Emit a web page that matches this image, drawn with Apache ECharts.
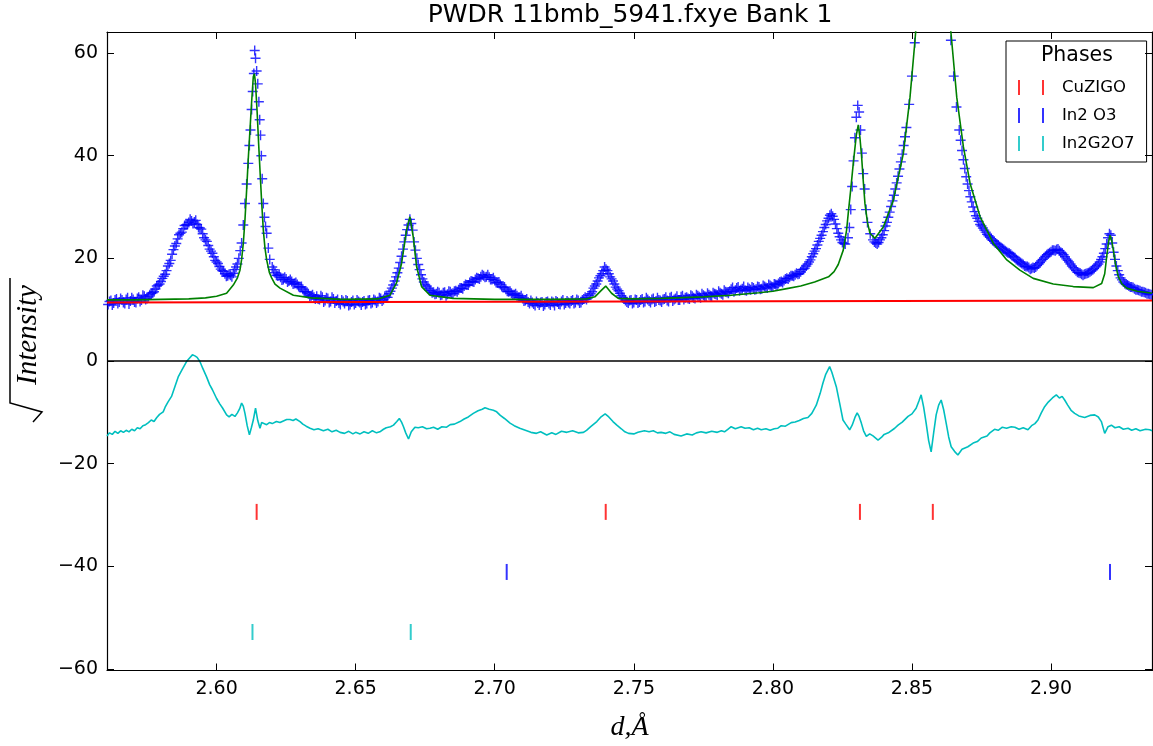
<!DOCTYPE html>
<html>
<head>
<meta charset="utf-8">
<script src="https://cdn.jsdelivr.net/npm/echarts@6.0.0/dist/echarts.min.js"></script>
<style>
html, body { margin: 0; padding: 0; background: #fff; }
#main { width: 1153px; height: 746px; }
</style>
</head>
<body>
<div id="main"></div>
<script>
// observed sqrt(I) (blue +), whole-step readings
var obsPts = [
 [2.561,11.0],[2.562,11.8],[2.563,11.3],[2.564,12.1],[2.565,11.5],[2.566,11.9],[2.567,11.2],[2.568,12.3],[2.569,11.7],[2.570,12.0],
 [2.571,11.4],[2.572,12.4],[2.573,11.9],[2.574,12.6],[2.575,12.2],[2.576,12.9],[2.577,13.3],[2.578,14.0],[2.579,14.8],[2.580,15.5],
 [2.581,16.5],[2.582,17.6],[2.583,19.0],[2.584,20.8],[2.585,22.4],[2.586,23.8],[2.587,24.9],[2.588,25.8],[2.589,26.5],[2.590,27.0],
 [2.591,27.3],[2.592,27.1],[2.593,26.6],[2.594,25.9],[2.595,24.8],[2.596,23.6],[2.597,22.5],[2.598,21.4],[2.599,20.3],[2.600,19.3],
 [2.601,18.4],[2.602,17.6],[2.603,17.0],[2.604,16.6],[2.605,16.7],[2.606,17.1],[2.607,18.3],[2.608,20.0],[2.609,23.0],[2.6096,26.5],
 [2.6102,30.7],[2.6108,34.5],[2.6114,38.5],[2.6118,42.0],[2.6122,45.0],[2.6126,49.0],[2.613,52.5],[2.6134,56.0],[2.6137,60.5],[2.614,59.0],
 [2.6144,56.5],[2.6148,54.0],[2.6152,50.5],[2.6155,47.0],[2.6158,44.0],[2.6161,40.0],[2.6164,35.5],[2.6168,30.7],[2.6172,28.0],[2.6176,26.2],
 [2.618,24.9],[2.6186,22.0],[2.6191,19.8],[2.620,18.3],[2.621,17.2],[2.622,16.6],[2.623,16.3],[2.624,15.9],[2.625,16.0],[2.626,15.6],
 [2.627,15.5],[2.628,15.1],[2.629,14.9],[2.630,14.3],[2.631,14.0],[2.632,13.5],[2.633,13.1],[2.634,12.7],[2.635,12.4],[2.636,12.6],
 [2.637,12.0],[2.638,12.4],[2.639,11.8],[2.640,12.2],[2.641,11.6],[2.642,12.1],[2.643,11.7],[2.644,11.3],[2.645,11.9],[2.646,11.2],
 [2.647,11.7],[2.648,11.0],[2.649,11.8],[2.650,11.3],[2.651,11.6],[2.652,10.9],[2.653,11.7],[2.654,11.2],[2.655,11.9],[2.656,11.4],
 [2.657,11.8],[2.658,11.6],[2.659,12.2],[2.660,12.0],[2.661,12.5],[2.662,13.1],[2.663,14.2],[2.664,15.6],[2.665,17.2],[2.666,19.2],
 [2.667,21.8],[2.668,24.5],[2.669,26.5],[2.6695,27.6],[2.670,26.8],[2.6705,25.5],[2.671,23.2],[2.672,20.0],[2.673,17.8],[2.674,16.0],
 [2.675,14.9],[2.676,14.2],[2.677,13.7],[2.678,13.4],[2.679,13.1],[2.680,13.3],[2.681,12.9],[2.682,13.4],[2.683,13.0],[2.684,13.5],
 [2.685,13.2],[2.686,13.7],[2.687,13.9],[2.688,14.2],[2.689,14.6],[2.690,14.8],[2.691,15.3],[2.692,15.5],[2.693,15.9],[2.694,16.1],
 [2.695,16.4],[2.696,16.6],[2.697,16.4],[2.698,16.3],[2.699,15.9],[2.700,15.7],[2.701,15.2],[2.702,14.9],[2.703,14.3],[2.704,14.0],
 [2.705,13.5],[2.706,13.2],[2.707,12.9],[2.708,12.7],[2.709,12.4],[2.710,12.2],[2.711,11.8],[2.712,11.5],[2.713,11.8],[2.714,11.1],
 [2.715,11.6],[2.716,10.9],[2.717,11.5],[2.718,11.0],[2.719,11.6],[2.720,10.9],[2.721,11.4],[2.722,11.7],[2.723,11.1],[2.724,11.6],
 [2.725,11.0],[2.726,11.7],[2.727,11.2],[2.728,11.9],[2.729,11.4],[2.730,11.8],[2.731,11.4],[2.732,12.1],[2.733,12.0],[2.734,12.8],
 [2.735,13.5],[2.736,14.6],[2.737,15.6],[2.738,16.6],[2.739,17.6],[2.7395,18.3],[2.740,17.9],[2.741,17.0],[2.742,16.0],[2.743,15.0],
 [2.744,14.0],[2.745,13.2],[2.746,12.4],[2.747,11.8],[2.748,11.3],[2.749,11.9],[2.750,11.4],[2.751,11.9],[2.752,11.5],[2.753,12.1],
 [2.754,11.6],[2.755,12.0],[2.756,11.4],[2.757,12.2],[2.758,11.7],[2.759,11.9],[2.760,11.5],[2.761,12.1],[2.762,11.8],[2.763,12.3],
 [2.764,11.7],[2.765,12.2],[2.766,11.9],[2.767,12.5],[2.768,12.0],[2.769,12.4],[2.770,12.1],[2.771,12.6],[2.772,12.2],[2.773,12.7],
 [2.774,12.3],[2.775,12.8],[2.776,12.5],[2.777,12.9],[2.778,12.6],[2.779,13.1],[2.780,12.8],[2.781,13.3],[2.782,12.9],[2.783,13.5],
 [2.784,13.2],[2.785,14.0],[2.786,13.5],[2.787,14.2],[2.788,13.7],[2.789,14.1],[2.790,13.8],[2.791,14.3],[2.792,13.9],[2.793,14.2],
 [2.794,14.0],[2.795,14.4],[2.796,14.1],[2.797,14.5],[2.798,14.2],[2.799,14.7],[2.800,14.4],[2.801,14.9],[2.802,15.1],[2.803,15.5],
 [2.804,15.7],[2.805,16.1],[2.806,16.3],[2.807,16.6],[2.808,16.8],[2.809,16.9],[2.810,17.4],[2.811,17.9],[2.812,18.5],[2.813,19.3],
 [2.814,20.3],[2.815,21.4],[2.816,22.6],[2.817,23.9],[2.818,25.2],[2.819,26.6],[2.820,27.8],[2.821,28.7],[2.822,27.6],[2.823,25.8],
 [2.824,24.2],[2.825,23.1],[2.826,22.8],[2.827,24.0],[2.8275,26.0],[2.828,29.5],[2.8285,34.0],[2.829,39.0],[2.8295,43.5],[2.830,47.5],
 [2.8305,49.8],[2.831,48.5],[2.8315,45.0],[2.832,40.5],[2.8325,36.5],[2.833,33.5],[2.8335,29.5],[2.834,27.0],[2.835,24.8],[2.836,23.6],
 [2.837,23.0],[2.838,23.1],[2.839,24.0],[2.840,25.4],[2.841,27.0],[2.842,29.0],[2.843,31.2],[2.844,33.5],[2.845,36.0],[2.846,38.8],
 [2.847,42.0],[2.848,45.5],[2.849,50.0],[2.850,55.5],[2.851,62.0],[2.852,70],[2.853,80],[2.854,92],[2.855,105],[2.856,115],
 [2.857,120],[2.858,118],[2.859,110],[2.860,100],[2.861,88],[2.862,78],[2.863,70],[2.864,62.5],[2.865,55.5],[2.866,49.5],
 [2.867,45.0],[2.868,41.0],[2.869,37.5],[2.870,34.5],[2.871,32.0],[2.872,30.0],[2.873,28.3],[2.874,27.2],[2.875,26.3],[2.876,25.5],
 [2.877,24.7],[2.878,24.1],[2.879,23.5],[2.880,23.0],[2.881,22.6],[2.882,22.1],[2.883,21.7],[2.884,21.3],[2.885,21.0],[2.886,20.5],
 [2.887,20.1],[2.888,19.6],[2.889,19.2],[2.890,18.8],[2.891,18.4],[2.892,18.2],[2.893,18.0],[2.894,18.1],[2.895,18.6],[2.896,19.2],
 [2.897,19.8],[2.898,20.4],[2.899,20.9],[2.900,21.3],[2.901,21.6],[2.902,21.7],[2.903,21.5],[2.904,21.0],[2.905,20.3],[2.906,19.6],
 [2.907,18.9],[2.908,18.2],[2.909,17.6],[2.910,17.2],[2.911,16.9],[2.912,16.9],[2.913,17.1],[2.914,17.4],[2.915,17.8],[2.916,18.3],
 [2.917,18.9],[2.918,19.8],[2.919,21.0],[2.920,22.8],[2.9205,24.0],[2.921,24.8],[2.9215,24.5],[2.922,23.0],[2.9225,21.2],[2.923,19.8],
 [2.924,17.6],[2.925,16.2],[2.926,15.4],[2.927,14.9],[2.928,14.6],[2.929,14.4],[2.930,14.1],[2.931,13.9],[2.932,13.7],[2.933,13.5],
 [2.934,13.3],[2.935,13.1],[2.936,12.9]
];

// observed sqrt(I), half-step readings between the ones above
var obsPtsHalf = [
 [2.5615,11.6],[2.5625,10.9],[2.5635,11.9],[2.5645,11.2],[2.5655,12.2],[2.5665,11.4],[2.5675,12.0],[2.5685,11.1],[2.5695,12.3],[2.5705,11.5],
 [2.5715,12.2],[2.5725,11.6],[2.5735,12.8],[2.5745,12.0],[2.5755,12.5],[2.5765,13.2],[2.5775,13.5],[2.5785,14.6],[2.5795,15.0],[2.5805,16.1],
 [2.5815,16.9],[2.5825,18.5],[2.5835,19.6],[2.5845,21.7],[2.5855,22.9],[2.5865,24.6],[2.5875,25.1],[2.5885,26.4],[2.5895,26.6],[2.5905,27.6],
 [2.5915,26.8],[2.5925,27.4],[2.5935,26.0],[2.5945,25.7],[2.5955,24.0],[2.5965,23.3],[2.5975,21.8],[2.5985,21.0],[2.5995,19.6],[2.6005,19.0],
 [2.6015,17.9],[2.6025,17.5],[2.6035,16.5],[2.6045,16.9],[2.6055,16.4],[2.6065,17.8],[2.6075,18.9],[2.6085,21.5],
 [2.6205,17.8],[2.6215,16.7],[2.6225,16.9],[2.6235,15.8],[2.6245,16.3],[2.6255,15.4],[2.6265,15.9],[2.6275,15.0],[2.6285,15.3],[2.6295,14.5],
 [2.6305,14.5],[2.6315,13.6],[2.6325,13.4],[2.6335,12.6],[2.6345,12.9],[2.6355,12.1],
 [2.6365,12.1],[2.6375,12.7],[2.6385,11.5],[2.6395,12.3],[2.6405,11.4],[2.6415,12.4],[2.6425,11.3],[2.6435,12.0],[2.6445,11.0],[2.6455,11.6],
 [2.6465,11.9],[2.6475,10.8],[2.6485,11.5],[2.6495,11.0],[2.6505,11.9],[2.6515,11.4],[2.6525,11.5],[2.6535,11.0],[2.6545,11.8],[2.6555,11.2],
 [2.6565,12.0],[2.6575,11.3],[2.6585,12.3],[2.6595,11.7],[2.6605,12.6],[2.6615,12.4],[2.6625,13.6],[2.6635,14.8],[2.6645,16.4],[2.6655,18.1],
 [2.6665,20.4],[2.6675,23.2],[2.6685,25.6],[2.6715,21.6],[2.6725,18.8],[2.6735,16.8],[2.6745,15.4],[2.6755,14.6],[2.6765,13.8],[2.6775,13.3],
 [2.6785,13.0],[2.6795,13.5],[2.6805,12.8],[2.6815,13.3],[2.6825,12.7],[2.6835,13.6],[2.6845,13.1],[2.6855,13.6],[2.6865,13.5],[2.6875,14.2],
 [2.6885,14.1],[2.6895,14.9],[2.6905,14.8],[2.6915,15.6],[2.6925,15.4],[2.6935,16.2],[2.6945,16.0],[2.6955,16.8],[2.6965,16.3],[2.6975,16.8],
 [2.6985,15.9],[2.6995,16.2],[2.7005,15.3],[2.7015,15.4],[2.7025,14.5],[2.7035,14.4],[2.7045,13.6],[2.7055,13.6],[2.7065,12.9],[2.7075,13.1],
 [2.7085,12.4],[2.7095,12.7],[2.7105,11.7],[2.7115,12.1],[2.7125,11.2],[2.7135,11.4],[2.7145,10.8],[2.7155,11.3],[2.7165,11.4],[2.7175,10.7],
 [2.7185,11.5],[2.7195,11.2],[2.7205,11.6],[2.7215,10.8],[2.7225,11.5],[2.7235,11.0],[2.7245,11.9],[2.7255,11.3],[2.7265,11.4],[2.7275,11.7],
 [2.7285,11.2],[2.7295,12.0],[2.7305,11.3],[2.7315,11.9],[2.7325,12.4],[2.7335,12.3],[2.7345,13.1],[2.7355,14.2],[2.7365,15.0],[2.7375,16.2],
 [2.7385,17.0],[2.7405,17.6],[2.7415,16.4],[2.7425,15.6],[2.7435,14.4],[2.7445,13.7],[2.7455,12.7],[2.7465,12.1],[2.7475,11.5],[2.7485,11.8],
 [2.7495,11.2],[2.7505,12.0],[2.7515,11.3],[2.7525,11.9],[2.7535,11.4],[2.7545,12.3],[2.7555,11.7],[2.7565,12.0],[2.7575,11.5],[2.7585,12.3],
 [2.7595,11.8],[2.7605,12.0],[2.7615,12.4],[2.7625,11.6],[2.7635,12.5],[2.7645,12.0],[2.7655,12.6],[2.7665,11.9],[2.7675,12.7],[2.7685,12.3],
 [2.7695,12.2],[2.7705,12.8],[2.7715,12.3],[2.7725,12.9],[2.7735,12.5],[2.7745,13.1],[2.7755,12.6],[2.7765,13.2],[2.7775,12.7],[2.7785,13.3],
 [2.7795,13.0],[2.7805,13.6],[2.7815,13.1],[2.7825,13.8],[2.7835,13.4],[2.7845,13.6],[2.7855,14.3],[2.7865,13.8],[2.7875,14.4],[2.7885,13.9],
 [2.7895,14.5],[2.7905,13.7],[2.7915,14.1],[2.7925,14.4],[2.7935,13.9],[2.7945,14.5],[2.7955,14.0],[2.7965,14.7],[2.7975,14.3],[2.7985,14.9],
 [2.7995,14.5],[2.8005,15.0],[2.8015,14.8],[2.8025,15.4],[2.8035,15.3],[2.8045,16.0],[2.8055,16.0],[2.8065,16.6],[2.8075,16.5],[2.8085,17.1],
 [2.8095,17.0],[2.8105,17.8],[2.8115,18.1],[2.8125,18.9],[2.8135,19.7],[2.8145,20.9],[2.8155,21.9],[2.8165,23.3],[2.8175,24.5],[2.8185,26.0],
 [2.8195,27.3],[2.8205,28.4],[2.8215,28.2],[2.8225,26.7],[2.8235,24.9],[2.8245,23.6],[2.8255,22.9],
 [2.8365,23.2],[2.8375,22.8],[2.8385,23.6],[2.8395,24.6],[2.8405,26.3],[2.8415,28.0],[2.8425,30.1],[2.8435,32.3],[2.8445,34.7],[2.8455,37.4],
 [2.8465,40.3],[2.8475,43.7],
 [2.8675,43.0],[2.8685,39.2],[2.8695,35.9],[2.8705,33.2],[2.8715,31.0],[2.8725,29.1],[2.8735,27.8],[2.8745,26.6],[2.8755,25.9],[2.8765,25.1],
 [2.8775,24.4],[2.8785,23.8],[2.8795,23.3],[2.8805,22.8],[2.8815,22.3],[2.8825,21.9],[2.8835,21.5],[2.8845,21.1],[2.8855,20.8],[2.8865,20.3],
 [2.8875,19.8],[2.8885,19.4],[2.8895,19.0],[2.8905,18.5],[2.8915,18.4],[2.8925,17.9],[2.8935,18.2],[2.8945,18.3],[2.8955,18.9],[2.8965,19.5],
 [2.8975,20.1],[2.8985,20.7],[2.8995,21.1],[2.9005,21.6],[2.9015,21.5],[2.9025,21.8],[2.9035,21.2],[2.9045,20.7],[2.9055,19.9],[2.9065,19.3],
 [2.9075,18.5],[2.9085,17.9],[2.9095,17.3],[2.9105,17.1],[2.9115,16.7],[2.9125,17.0],[2.9135,17.2],[2.9145,17.6],[2.9155,18.0],[2.9165,18.6],
 [2.9175,19.3],[2.9185,20.3],[2.9195,21.9],[2.9235,18.5],[2.9245,16.8],[2.9255,15.8],[2.9265,15.1],[2.9275,14.8],[2.9285,14.4],[2.9295,14.3],
 [2.9305,13.9],[2.9315,13.8],[2.9325,13.5],[2.9335,13.4],[2.9345,13.1],[2.9355,13.0]
];

// calculated (green)
var calcPts = [
 [2.5606,11.9],[2.570,11.9],[2.580,12.0],[2.590,12.1],[2.596,12.3],[2.600,12.6],[2.6036,13.2],[2.606,14.8],[2.6075,16.2],[2.6084,17.7],
 [2.609,19.8],[2.6096,22.9],[2.6102,27.5],[2.6108,33.3],[2.6114,39.5],[2.612,45.0],[2.6126,50.5],[2.6132,55.4],[2.6136,56.0],[2.614,54.0],
 [2.6146,48.3],[2.6151,42.5],[2.6156,37.2],[2.6162,31.0],[2.6168,25.5],[2.6174,22.0],[2.618,19.7],[2.619,17.2],[2.6198,16.2],[2.621,15.0],
 [2.6228,14.2],[2.6276,12.8],[2.634,12.3],[2.645,12.0],[2.658,12.1],[2.6623,12.8],[2.6647,15.2],[2.6665,19.0],[2.6683,25.5],[2.6695,28.1],
 [2.6707,24.2],[2.6719,18.4],[2.6737,14.5],[2.6767,12.8],[2.685,12.2],[2.700,12.0],[2.720,12.0],[2.733,12.1],[2.736,12.5],[2.7384,13.8],
 [2.7399,14.6],[2.742,13.2],[2.7444,12.2],[2.750,12.1],[2.760,12.2],[2.775,12.5],[2.785,12.8],[2.795,13.3],[2.800,13.6],[2.805,14.1],
 [2.810,14.6],[2.815,15.4],[2.820,16.4],[2.822,17.4],[2.8235,18.8],[2.8253,21.6],[2.8265,25.5],[2.8271,28.8],[2.828,33.5],[2.8289,38.5],
 [2.830,44.0],[2.8307,46.0],[2.8313,43.5],[2.8319,39.8],[2.8325,35.0],[2.8331,30.7],[2.834,27.0],[2.8349,24.9],[2.8367,23.9],[2.8397,26.1],
 [2.8433,31.3],[2.8469,40.4],[2.8493,51.4],[2.8511,62.5],[2.853,76],[2.855,95],[2.8577,112],[2.860,95],[2.862,76],[2.8646,60.5],
 [2.8661,51.4],[2.8685,41.7],[2.8709,34.6],[2.8745,28.1],[2.8793,22.9],[2.8841,19.7],[2.8888,17.7],[2.8936,16.1],[2.9008,15.0],[2.908,14.5],
 [2.9152,14.3],[2.9182,15.1],[2.9193,17.0],[2.920,20.3],[2.9207,23.2],[2.9212,24.5],[2.9218,23.5],[2.9224,21.6],[2.9233,18.5],[2.9242,16.4],
 [2.9255,15.0],[2.9272,14.2],[2.931,13.6],[2.9363,13.2]
];

// background (red)
var bkgPts = [[2.5606,11.4],[2.750,11.6],[2.9363,11.8]];

// difference curve (cyan)
var diffPts = [
 [2.5606,-14.6],[2.5615,-14.0],[2.5625,-14.3],[2.5635,-13.7],[2.5645,-14.1],[2.5655,-13.6],[2.5665,-13.9],[2.5675,-13.5],[2.5685,-13.8],[2.5695,-13.3],
 [2.5705,-13.6],[2.5715,-13.0],[2.5725,-13.2],[2.5735,-12.6],[2.5745,-12.4],[2.5755,-12.0],[2.5765,-11.5],[2.5775,-11.8],[2.5785,-11.0],[2.5795,-10.4],
 [2.5808,-9.9],[2.5815,-9.0],[2.5825,-8.0],[2.5838,-6.9],[2.585,-5.0],[2.5862,-3.1],[2.5875,-1.8],[2.5892,-0.1],[2.5903,0.6],[2.5913,1.2],
 [2.5922,1.0],[2.593,0.7],[2.594,-0.1],[2.595,-1.4],[2.5964,-3.1],[2.5975,-4.6],[2.5985,-5.6],[2.600,-7.3],[2.6012,-8.4],[2.6022,-9.2],
 [2.6036,-10.5],[2.6045,-10.9],[2.6055,-10.4],[2.6066,-10.8],[2.6075,-10.1],[2.6083,-9.3],[2.609,-8.2],[2.6096,-8.8],[2.6102,-10.2],[2.611,-12.6],
 [2.6118,-14.4],[2.6125,-13.0],[2.6132,-11.5],[2.614,-9.2],[2.6148,-11.6],[2.6156,-13.1],[2.6162,-12.0],[2.6168,-12.1],[2.618,-12.4],[2.619,-12.0],
 [2.620,-12.2],[2.6215,-11.8],[2.6228,-12.0],[2.624,-11.7],[2.6252,-11.4],[2.6264,-11.4],[2.6275,-11.6],[2.6285,-11.3],[2.630,-11.8],[2.631,-12.3],
 [2.6322,-12.7],[2.6336,-13.1],[2.635,-13.4],[2.6365,-13.2],[2.6384,-13.6],[2.640,-13.3],[2.6415,-13.8],[2.643,-13.5],[2.6444,-13.9],[2.646,-14.1],
 [2.6475,-13.7],[2.649,-14.2],[2.650,-13.9],[2.6516,-14.2],[2.653,-13.8],[2.6545,-14.1],[2.656,-13.6],[2.6575,-14.0],[2.6587,-13.8],[2.660,-13.3],
 [2.661,-13.0],[2.6625,-12.8],[2.6636,-12.5],[2.6648,-11.8],[2.6657,-11.2],[2.6665,-11.9],[2.6672,-12.8],[2.668,-14.0],[2.669,-15.2],[2.670,-13.8],
 [2.6713,-12.9],[2.6725,-13.0],[2.674,-12.8],[2.6755,-13.2],[2.6767,-13.1],[2.678,-12.9],[2.6795,-13.3],[2.681,-12.8],[2.6827,-12.9],[2.684,-12.4],
 [2.6855,-12.3],[2.6875,-11.8],[2.689,-11.3],[2.6905,-10.9],[2.6923,-10.2],[2.694,-9.7],[2.6955,-9.4],[2.6965,-9.1],[2.698,-9.4],[2.6995,-9.6],
 [2.7007,-9.9],[2.702,-10.6],[2.7035,-11.2],[2.7055,-12.1],[2.707,-12.6],[2.709,-13.1],[2.7115,-13.6],[2.713,-13.9],[2.715,-14.1],[2.7165,-13.8],
 [2.7187,-14.4],[2.7205,-14.0],[2.722,-14.3],[2.724,-13.7],[2.7259,-13.9],[2.728,-13.6],[2.730,-14.0],[2.7319,-13.9],[2.733,-13.5],[2.7345,-12.8],
 [2.7367,-11.8],[2.738,-11.0],[2.7397,-10.3],[2.741,-10.9],[2.7425,-11.8],[2.7439,-12.5],[2.7455,-13.2],[2.7468,-13.8],[2.7481,-14.1],[2.750,-14.2],
 [2.7515,-13.9],[2.7538,-13.6],[2.7555,-13.8],[2.757,-13.6],[2.7585,-14.0],[2.7598,-13.9],[2.7615,-14.1],[2.763,-13.8],[2.7645,-14.3],[2.767,-14.6],
 [2.769,-14.2],[2.771,-14.4],[2.7725,-14.0],[2.7742,-13.8],[2.776,-14.0],[2.778,-13.7],[2.780,-13.9],[2.7815,-13.6],[2.7826,-13.8],[2.7838,-13.3],
 [2.785,-12.8],[2.7865,-13.2],[2.7886,-12.8],[2.790,-13.1],[2.7915,-13.0],[2.793,-13.4],[2.7945,-13.1],[2.7958,-13.4],[2.7975,-13.2],[2.799,-13.5],
 [2.8005,-13.2],[2.8018,-13.1],[2.803,-12.6],[2.8045,-12.7],[2.8066,-12.0],[2.808,-11.9],[2.8095,-11.6],[2.811,-11.2],[2.8126,-11.0],[2.814,-10.2],
 [2.8156,-8.6],[2.817,-6.3],[2.818,-4.3],[2.819,-2.6],[2.8197,-2.3],[2.8204,-1.1],[2.8212,-2.2],[2.822,-3.6],[2.8228,-5.0],[2.824,-8.2],
 [2.8252,-11.5],[2.8262,-12.3],[2.8276,-13.4],[2.8285,-12.5],[2.8295,-11.0],[2.8303,-10.1],[2.831,-10.8],[2.8318,-12.1],[2.8326,-13.6],[2.8336,-14.7],
 [2.8348,-14.2],[2.836,-14.6],[2.8378,-15.4],[2.839,-14.9],[2.840,-14.3],[2.8415,-14.0],[2.8438,-13.1],[2.845,-12.5],[2.8465,-11.9],[2.8486,-10.8],
 [2.850,-10.3],[2.8515,-9.2],[2.8525,-7.8],[2.8533,-6.6],[2.8542,-9.0],[2.8551,-12.1],[2.856,-15.5],[2.8569,-17.7],[2.8578,-14.0],[2.8587,-10.5],
 [2.8596,-8.6],[2.8605,-7.6],[2.8614,-9.5],[2.8623,-12.1],[2.8632,-14.8],[2.8641,-16.7],[2.8653,-17.6],[2.8665,-18.3],[2.868,-17.2],[2.8701,-16.7],
 [2.872,-16.0],[2.8735,-15.7],[2.8749,-15.0],[2.877,-14.6],[2.878,-14.0],[2.8797,-13.3],[2.881,-13.5],[2.8825,-12.9],[2.884,-13.1],[2.8857,-12.8],
 [2.887,-12.9],[2.8885,-13.3],[2.890,-13.0],[2.8917,-13.4],[2.893,-12.6],[2.8942,-12.2],[2.8953,-11.5],[2.8965,-10.1],[2.8977,-8.9],[2.899,-8.0],
 [2.9005,-7.2],[2.9019,-6.6],[2.903,-7.2],[2.904,-6.9],[2.9049,-7.6],[2.906,-8.6],[2.9072,-9.6],[2.9085,-10.2],[2.910,-10.7],[2.9121,-11.0],
 [2.914,-10.6],[2.9157,-10.5],[2.917,-10.9],[2.9181,-11.8],[2.9193,-14.1],[2.9205,-12.8],[2.9217,-12.5],[2.923,-13.0],[2.9245,-12.8],[2.926,-13.3],
 [2.9277,-13.1],[2.929,-13.5],[2.9305,-13.2],[2.932,-13.6],[2.934,-13.3],[2.9355,-13.4],[2.9363,-13.6]
];

// reflection positions per phase
var phaseNames = ['CuZIGO', 'In2 O3', 'In2G2O7'];
var phaseColors = ['#ff0000', '#0000ff', '#00bfbf'];
var phaseTicks = [
  [2.6144, 2.7399, 2.8313, 2.8575],
  [2.7043, 2.9212],
  [2.6129, 2.6698]
];
var phaseLevel = [-29.4, -41.1, -52.8];

var xMin = 2.5606, xMax = 2.9363;
var yMin = -60.3, yMax = 64.1;

var FONT = 'DejaVu Sans';
var plusIcon = 'path://M0,4.3H10V5.7H0Z M4.3,0H5.7V10H4.3Z';
var legendIcon = 'path://M0,0H2V15H0Z M24,0H26V15H24Z';

function fmtX(v) {
  var k = v * 20;
  if (Math.abs(k - Math.round(k)) > 1e-6) return '';
  return v.toFixed(2);
}
function fmtY(v) {
  var k = v / 20;
  if (Math.abs(k - Math.round(k)) > 1e-6) return '';
  v = Math.round(v);
  return v < 0 ? '\u2212' + Math.abs(v) : String(v);
}

var myChart = echarts.init(document.getElementById('main'));

var series = [
  {
    name: 'obs', type: 'scatter', data: obsPts.concat(obsPtsHalf), symbol: plusIcon, symbolSize: 10,
    itemStyle: { color: '#0000ff', opacity: 0.8 }, clip: true, z: 1, silent: true
  },
  {
    name: 'bkg', type: 'line', data: bkgPts, showSymbol: false,
    lineStyle: { color: '#ff0000', width: 2 }, z: 2, silent: true
  },
  {
    name: 'calc', type: 'line', data: calcPts, showSymbol: false, clip: true,
    lineStyle: { color: '#008000', width: 1.6 }, z: 3, silent: true
  },
  {
    name: 'diff', type: 'line', data: diffPts, showSymbol: false,
    lineStyle: { color: '#00bfbf', width: 1.6 }, z: 3, silent: true,
    markLine: {
      silent: true, symbol: ['none', 'none'], label: { show: false },
      lineStyle: { color: '#000', width: 1.5, type: 'solid' },
      data: [{ yAxis: 0 }]
    }
  }
];

phaseNames.forEach(function (name, i) {
  series.push({
    name: name, type: 'scatter', symbol: 'rect', symbolSize: [2, 16],
    itemStyle: { color: phaseColors[i] }, z: 4, silent: true,
    data: phaseTicks[i].map(function (d) { return [d, phaseLevel[i]]; })
  });
});

var option = {
  animation: false,
  title: {
    text: 'PWDR 11bmb_5941.fxye Bank 1',
    left: 630, top: 3, padding: 0, textAlign: 'center',
    textStyle: { fontFamily: FONT, fontSize: 25, fontWeight: 'normal', color: '#000' }
  },
  legend: {
    data: phaseNames.map(function (n) { return { name: n, icon: legendIcon }; }),
    orient: 'vertical', left: 1006, top: 41,
    itemWidth: 26, itemHeight: 15, itemGap: 11,
    padding: [38, 12, 10, 12],
    borderColor: '#000', borderWidth: 1, borderRadius: 0,
    selectedMode: false,
    textStyle: { fontFamily: FONT, fontSize: 16.5, color: '#000', padding: [0, 0, 0, 13] }
  },
  graphic: [
    {
      type: 'text', left: 1041, top: 45, z: 100,
      style: { text: 'Phases', font: '20.5px "DejaVu Sans"', fill: '#000' }
    },
    {
      type: 'text', x: 28, y: 335, rotation: Math.PI / 2, z: 100,
      style: {
        text: 'Intensity', font: 'italic 29px "Liberation Serif"', fill: '#000',
        align: 'center', verticalAlign: 'middle'
      }
    },
    {
      type: 'polyline', z: 100,
      shape: { points: [[10, 278], [10, 403], [42, 412], [33, 422]] },
      style: { stroke: '#000', lineWidth: 1.5, fill: 'none' }
    }
  ],
  grid: { left: 107, right: 1, top: 32, bottom: 75.5, containLabel: false, outerBoundsMode: 'none' },
  xAxis: [
    {
      type: 'value', min: xMin, max: xMax, splitNumber: 7, minInterval: 0.05, maxInterval: 0.05,
      name: 'd,\u00c5', nameLocation: 'middle', nameGap: 43,
      nameTextStyle: { fontFamily: 'Liberation Serif', fontStyle: 'italic', fontSize: 28, color: '#000' },
      axisLine: { show: true, onZero: false, lineStyle: { color: '#000', width: 1.2 } },
      axisTick: { show: true, inside: true, length: 7, lineStyle: { color: '#000' } },
      axisLabel: { formatter: fmtX, fontFamily: FONT, fontSize: 19, color: '#000', margin: 9 },
      splitLine: { show: false }
    },
    {
      type: 'value', position: 'top', min: xMin, max: xMax, splitNumber: 7, minInterval: 0.05, maxInterval: 0.05,
      axisLine: { show: true, onZero: false, lineStyle: { color: '#000', width: 1.2 } },
      axisTick: { show: true, inside: true, length: 7, lineStyle: { color: '#000' } },
      axisLabel: { show: false }, splitLine: { show: false }
    }
  ],
  yAxis: [
    {
      type: 'value', min: yMin, max: yMax, splitNumber: 6, minInterval: 20, maxInterval: 20,
      axisLine: { show: true, onZero: false, lineStyle: { color: '#000', width: 1.2 } },
      axisTick: { show: true, inside: true, length: 7, lineStyle: { color: '#000' } },
      axisLabel: { formatter: fmtY, fontFamily: FONT, fontSize: 19, color: '#000', margin: 9 },
      splitLine: { show: false }
    },
    {
      type: 'value', position: 'right', min: yMin, max: yMax, splitNumber: 6, minInterval: 20, maxInterval: 20,
      axisLine: { show: true, onZero: false, lineStyle: { color: '#000', width: 1.2 } },
      axisTick: { show: true, inside: true, length: 7, lineStyle: { color: '#000' } },
      axisLabel: { show: false }, splitLine: { show: false }
    }
  ],
  series: series
};

myChart.setOption(option);
window.onresize = myChart.resize;
</script>
</body>
</html>
